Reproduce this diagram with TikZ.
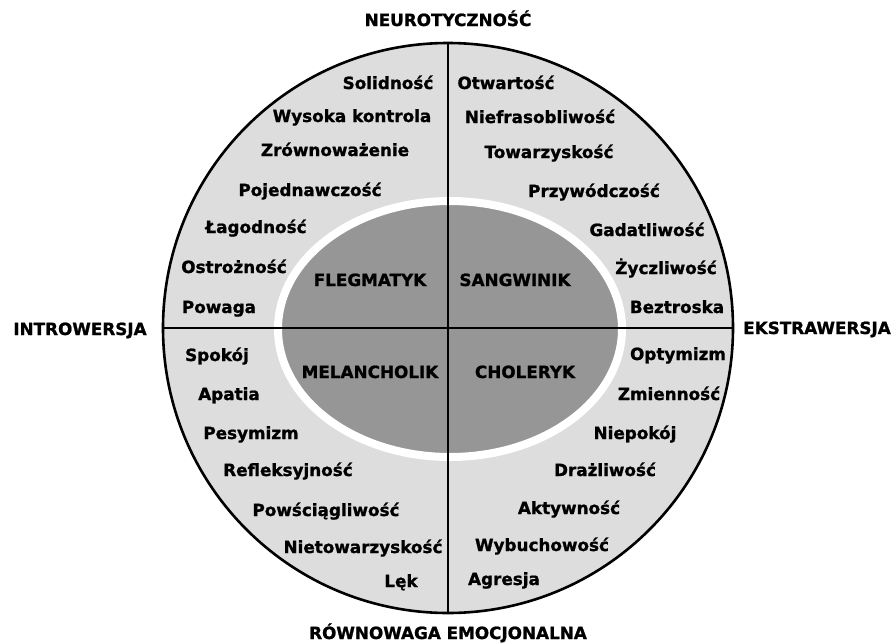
\documentclass[tikz,border=0pt]{standalone}
\usepackage{fontspec}
\setmainfont{DejaVu Sans}[BoldFeatures={FakeBold=1.2}]
\definecolor{outerfill}{RGB}{221,221,221}
\definecolor{innerfill}{RGB}{150,150,150}
\begin{document}
\begin{tikzpicture}[x=1pt,y=-1pt,
  lbl/.style={anchor=base,inner sep=0pt,font=\fontsize{16.8}{20}\selectfont\bfseries},
  axislbl/.style={lbl}]
\useasboundingbox (0,0) rectangle (895,643);
% outer circle
\node[circle,draw=black,line width=2.6pt,fill=outerfill,minimum size=570pt,inner sep=0pt] (outer) at (448,328) {};
% inner ellipse
\draw[white,line width=8pt,fill=innerfill] (450,329) ellipse [x radius=172,y radius=128];
% cross
\draw[line width=1.6pt] (outer.north) -- (outer.south);
\draw[line width=1.6pt] (outer.west) -- (outer.east);
% axis labels
\node[axislbl] (neu) at (448,26) {NEUROTYCZNOŚĆ};
\node[axislbl] (intro) at (80,335) {INTROWERSJA};
\node[axislbl] (ekstra) at (817,334) {EKSTRAWERSJA};
\node[axislbl] (rown) at (448,639) {RÓWNOWAGA EMOCJONALNA};
% temperaments
\node[lbl] (fleg) at (370,286) {FLEGMATYK};
\node[lbl] (sang) at (515,286) {SANGWINIK};
\node[lbl] (mel) at (370,378) {MELANCHOLIK};
\node[lbl] (chol) at (525,378) {CHOLERYK};
% upper left
\node[lbl] (t1) at (388,89) {Solidność};
\node[lbl] (t2) at (352,122) {Wysoka kontrola};
\node[lbl] (t3) at (335,156) {Zrównoważenie};
\node[lbl] (t4) at (310,196) {Pojednawczość};
\node[lbl] (t5) at (256,233) {Łagodność};
\node[lbl] (t6) at (234,273) {Ostrożność};
\node[lbl] (t7) at (219,313) {Powaga};
% lower left
\node[lbl] (t8) at (217,361) {Spokój};
\node[lbl] (t9) at (229,400) {Apatia};
\node[lbl] (t10) at (251,439) {Pesymizm};
\node[lbl] (t11) at (288,476) {Refleksyjność};
\node[lbl] (t12) at (326,516) {Powściągliwość};
\node[lbl] (t13) at (363,553) {Nietowarzyskość};
\node[lbl] (t14) at (401,587) {Lęk};
% upper right
\node[lbl] (r1) at (506,89) {Otwartość};
\node[lbl] (r2) at (540,123) {Niefrasobliwość};
\node[lbl] (r3) at (549,158) {Towarzyskość};
\node[lbl] (r4) at (594,197) {Przywódczość};
\node[lbl] (r5) at (647,236) {Gadatliwość};
\node[lbl] (r6) at (666,274) {Życzliwość};
\node[lbl] (r7) at (677,313) {Beztroska};
% lower right
\node[lbl] (r8) at (678,360) {Optymizm};
\node[lbl] (r9) at (669,400) {Zmienność};
\node[lbl] (r10) at (635,439) {Niepokój};
\node[lbl] (r11) at (605,476) {Drażliwość};
\node[lbl] (r12) at (569,514) {Aktywność};
\node[lbl] (r13) at (542,551) {Wybuchowość};
\node[lbl] (r14) at (504,585) {Agresja};
\end{tikzpicture}
\end{document}
